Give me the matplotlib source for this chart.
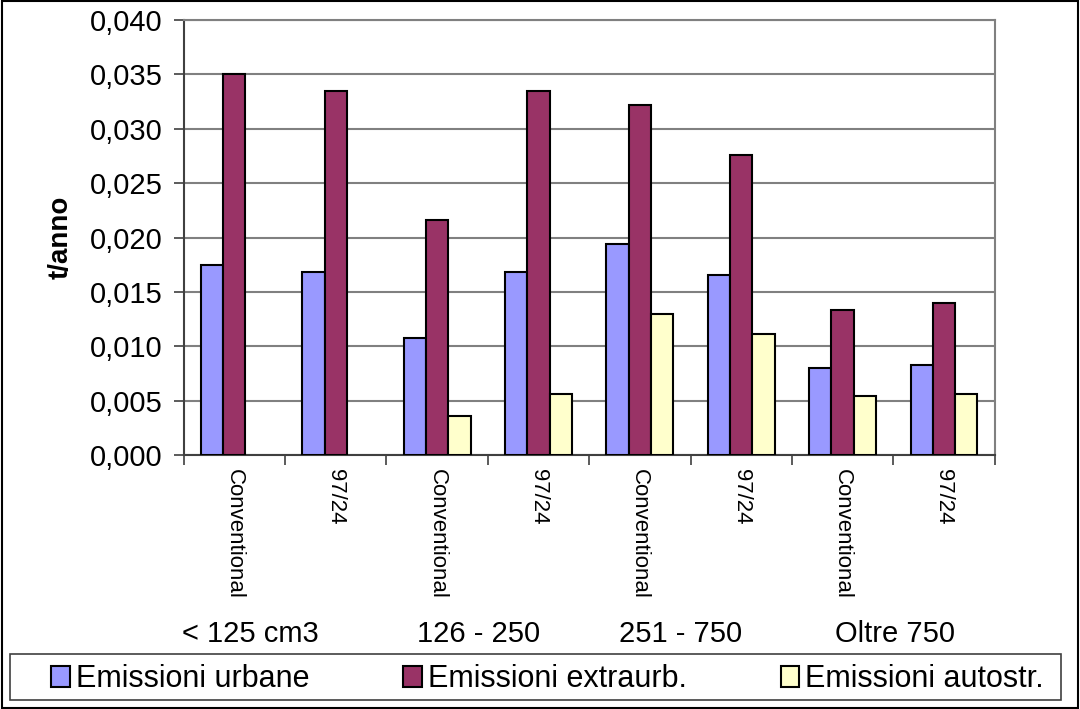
import numpy as np
import matplotlib
matplotlib.use("Agg")
import matplotlib.pyplot as plt
from matplotlib.patches import Rectangle
from matplotlib.ticker import FuncFormatter

plt.rcParams['font.family'] = ['Liberation Sans', 'DejaVu Sans']

# data (t/anno)
categories = ['Conventional', '97/24'] * 4
groups = ['< 125 cm3', '126 - 250', '251 - 750', 'Oltre 750']
urbane = [0.0175, 0.0168, 0.0108, 0.0168, 0.0194, 0.0166, 0.0080, 0.0083]
extraurb = [0.0350, 0.0335, 0.0216, 0.0335, 0.0322, 0.0276, 0.0133, 0.0140]
autostr = [0.0, 0.0, 0.0036, 0.0056, 0.0130, 0.0111, 0.0054, 0.0056]

fig = plt.figure(figsize=(10.8, 7.09), dpi=100)
ax = fig.add_axes([0.170, 0.358, 0.751, 0.614])

x = np.arange(len(categories))
w = 0.22
kw = dict(edgecolor='black', linewidth=1.5, zorder=3)
ax.bar(x - w, urbane, w, color='#9999FF', label='Emissioni urbane', **kw)
ax.bar(x, extraurb, w, color='#993366', label='Emissioni extraurb.', **kw)
auto = [v if v > 0 else np.nan for v in autostr]
ax.bar(x + w, auto, w, color='#FFFFCC', label='Emissioni autostr.', **kw)

ax.set_xlim(-0.5, len(categories) - 0.5)
ax.set_ylim(0, 0.040)
ax.set_yticks(np.arange(0, 0.0401, 0.005))
ax.yaxis.set_major_formatter(FuncFormatter(lambda v, p: f'{v:.3f}'.replace('.', ',')))
ax.grid(axis='y', color='#808080', linewidth=1.5, zorder=0)

# category ticks at boundaries, labels centered
ax.set_xticks(np.arange(-0.5, len(categories), 1.0))
ax.set_xticklabels([])
ax.set_xticks(x, minor=True)
ax.set_xticklabels(categories, minor=True, rotation=-90, fontsize=16)
ax.tick_params(axis='x', which='minor', length=0, pad=10)
ax.tick_params(axis='x', which='major', length=7, width=1.2, color='#404040', direction='out')
ax.tick_params(axis='y', length=7, width=1.2, color='#404040', labelsize=21, pad=8)

for s in ['left', 'bottom']:
    ax.spines[s].set_color('#404040')
    ax.spines[s].set_linewidth(1.5)
for s in ['top', 'right']:
    ax.spines[s].set_color('#808080')
    ax.spines[s].set_linewidth(1.5)

ax.set_ylabel('t/anno', fontsize=20, fontweight='bold', labelpad=12)

# group labels
for gx, g in zip([0.232, 0.443, 0.630, 0.829], groups):
    fig.text(gx, 0.106, g, fontsize=21, ha='center', va='center')

# legend (entries spread inside a separate box)
fig.legend(loc='lower left', bbox_to_anchor=(0.042, 0.012, 0.93, 0.065), ncol=3,
           fontsize=22, frameon=False, handlelength=0.6, handleheight=0.7,
           handletextpad=0.2, borderpad=0.2, borderaxespad=0, mode='expand',
           bbox_transform=fig.transFigure)
fig.patches.append(Rectangle((0.009, 0.012), 0.973, 0.065, transform=fig.transFigure,
                             fill=False, edgecolor='#404040', linewidth=1.2))

fig.patches.append(Rectangle((0.002, 0.002), 0.996, 0.996, transform=fig.transFigure,
                             fill=False, edgecolor='black', linewidth=1.5))

fig.savefig('out.png', dpi=100)
